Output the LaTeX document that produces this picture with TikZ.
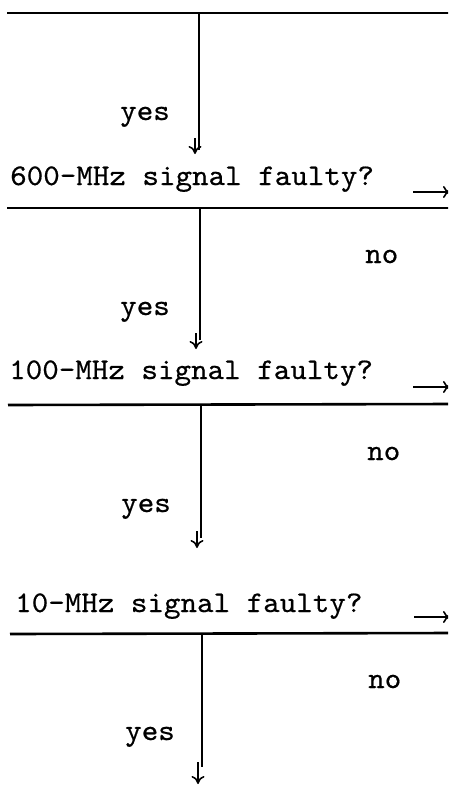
\documentclass[tikz,border=0pt]{standalone}
\usepackage{fontspec}
\usetikzlibrary{arrows.meta}
% typewriter face, slightly widened and darkened
\newfontfamily\typew{lmmono10-regular.otf}[FakeStretch=1.05, FakeBold=0.5]
\begin{document}
\begin{tikzpicture}[x=1pt,y=-1pt,
  txt/.style={font=\typew\fontsize{30}{36}\selectfont, inner sep=0pt, anchor=base west},
  rule/.style={line width=2.6pt},
  stem/.style={line width=2.8pt},
  down/.style={line width=1.6pt, -{To[length=8pt,width=13pt]}},
  exit/.style={line width=1.6pt, -{To[length=7pt,width=12pt]}}]
\useasboundingbox (0,0) rectangle (448,785);
\clip (0,0) rectangle (448,785);

% horizontal rules separating the decision steps
\coordinate (r1l) at (7,13);   \coordinate (r1r) at (452,13);
\coordinate (r2l) at (7,208);  \coordinate (r2r) at (452,208);
\coordinate (r3l) at (8,405);  \coordinate (r3r) at (452,404);
\coordinate (r4l) at (10,634); \coordinate (r4r) at (452,633);
\draw[rule] (r1l) -- (r1r);
\draw[rule] (r2l) -- (r2r);
\draw[rule] (r3l) -- (r3r);
\draw[rule] (r4l) -- (r4r);

% questions
\node[txt] (q1) at (10,185) {600-MHz signal faulty?};
\node[txt] (q2) at (9,379)  {100-MHz signal faulty?};
\node[txt] (q3) at (15,612) {10-MHz signal faulty?};

% branch labels
\node[txt] (y1) at (120,120) {yes};
\node[txt] (y2) at (120,315) {yes};
\node[txt] (y3) at (121,512) {yes};
\node[txt] (y4) at (125,740) {yes};
\node[txt] (n1) at (365,263) {no};
\node[txt] (n2) at (367,460) {no};
\node[txt] (n3) at (368,688) {no};

% "yes" paths: vertical stems with a small arrow at the end
\coordinate (s1a) at (199,13);  \coordinate (s1b) at (199,150);
\coordinate (s2a) at (200,208); \coordinate (s2b) at (200,340);
\coordinate (s3a) at (201,405); \coordinate (s3b) at (201,538);
\coordinate (s4a) at (202,633); \coordinate (s4b) at (202,767);
\draw[stem] (s1a) -- (s1b);
\draw[stem] (s2a) -- (s2b);
\draw[stem] (s3a) -- (s3b);
\draw[stem] (s4a) -- (s4b);

\coordinate (d1a) at (195,138); \coordinate (d1b) at (195,154);
\coordinate (d2a) at (196,333); \coordinate (d2b) at (196,349);
\coordinate (d3a) at (197,531); \coordinate (d3b) at (197,548);
\coordinate (d4a) at (198,762); \coordinate (d4b) at (198,784);
\draw[down] (d1a) -- (d1b);
\draw[down] (d2a) -- (d2b);
\draw[down] (d3a) -- (d3b);
\draw[down] (d4a) -- (d4b);

% "no" exits to the right
\coordinate (e1a) at (413,192); \coordinate (e1b) at (450,192);
\coordinate (e2a) at (413,387); \coordinate (e2b) at (450,387);
\coordinate (e3a) at (414,617); \coordinate (e3b) at (450,617);
\draw[exit] (e1a) -- (e1b);
\draw[exit] (e2a) -- (e2b);
\draw[exit] (e3a) -- (e3b);
\end{tikzpicture}
\end{document}
